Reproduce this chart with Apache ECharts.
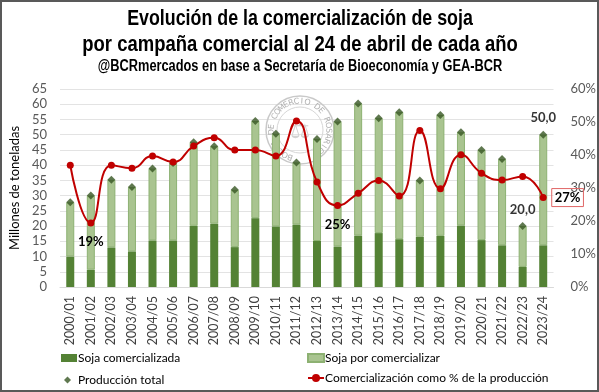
<!DOCTYPE html>
<html><head><meta charset="utf-8">
<script src="https://cdn.jsdelivr.net/npm/echarts@6/dist/echarts.min.js"></script>
<style>html,body{margin:0;padding:0;background:#fff}#c{width:599px;height:392px}</style>
</head><body><div id="c"></div>
<script>
const categories = ['2000/01','2001/02','2002/03','2003/04','2004/05','2005/06','2006/07','2007/08','2008/09','2009/10','2010/11','2011/12','2012/13','2013/14','2014/15','2015/16','2016/17','2017/18','2018/19','2019/20','2020/21','2021/22','2022/23','2023/24'];
const produccionTotal = [27.8,30.0,35.2,32.8,38.9,40.7,47.5,46.2,31.9,54.5,50.3,40.9,48.6,54.3,60.2,55.4,57.4,35.0,56.5,50.8,45.0,42.0,20.0,50.0];
const sojaComercializada = [10.0,5.7,13.0,11.7,15.3,15.3,20.1,20.8,13.1,22.6,19.9,20.5,15.1,13.3,16.9,17.7,15.7,16.5,16.8,20.2,15.4,13.7,6.6,13.7];
const pctComercializado = [36.9,19.4,36.9,36.0,39.7,37.9,42.7,45.2,41.5,41.5,39.7,50.3,31.8,24.7,28.4,32.3,27.6,47.4,29.8,40.1,34.5,32.4,33.5,27.1];
const leftTicks = {min:0,max:65,interval:5};
const rightTicks = {min:0,max:60,interval:10};
const pctBelowLabels = [1,13];
const pctRightLabel = 23;
const totalLabels = [22,23];
const titleLines = ['Evolución de la comercialización de soja','por campaña comercial al 24 de abril de cada año'];
const subtitle = '@BCRmercados en base a Secretaría de Bioeconomía y GEA-BCR';

const sojaPorComercializar = produccionTotal.map((t,i)=>+(t - sojaComercializada[i]).toFixed(1));
const FONT = 'Lato, "Open Sans", sans-serif';
const TFONT = '"Liberation Sans", Arial, sans-serif';

const pctData = pctComercializado.map((v,i)=>{
  if (pctBelowLabels.includes(i)) return {value:v,label:{show:true,position:'bottom',distance:9}};
  if (i===pctRightLabel) return {value:v,label:{show:true,position:'right',distance:5,borderColor:'#e06666',borderWidth:1,padding:[3,3,2,3]}};
  return v;
});
const totData = produccionTotal.map((v,i)=> totalLabels.includes(i) ? {value:v,label:{show:true,position:'top',distance:6}} : v);

const g = [];
g.push({type:'text',x:300,y:19,scaleX:0.81,style:{text:titleLines[0],font:'bold 22px '+TFONT,fill:'#000',align:'center',verticalAlign:'middle'},z:10,silent:true});
g.push({type:'text',x:300,y:45,scaleX:0.84,style:{text:titleLines[1],font:'bold 22px '+TFONT,fill:'#000',align:'center',verticalAlign:'middle'},z:10,silent:true});
g.push({type:'text',x:300,y:67,scaleX:0.80,style:{text:subtitle,font:'bold 16px '+TFONT,fill:'#000',align:'center',verticalAlign:'middle'},z:10,silent:true});
const cx=300, cy=130;
g.push({type:'circle',shape:{cx,cy,r:34},style:{fill:'rgba(255,255,255,0)',stroke:'#c9c9c9',lineWidth:1.5},z:1,silent:true});
g.push({type:'circle',shape:{cx,cy,r:23},style:{fill:'rgba(255,255,255,0)',stroke:'#d6d6d6',lineWidth:1},z:1,silent:true});
const wmText = 'BOLSA DE COMERCIO DE ROSARIO';
const a0 = 250*Math.PI/180, a1 = -45*Math.PI/180;
for (let k=0;k<wmText.length;k++){
  const th = a0 + (a1-a0)*k/(wmText.length-1);
  const r = 28.5;
  g.push({type:'text',x:cx + r*Math.cos(th), y:cy - r*Math.sin(th), rotation: th - Math.PI/2,
    style:{text:wmText[k],font:'8px "DejaVu Sans", sans-serif',fill:'#b0b0b0',align:'center',verticalAlign:'middle'},z:1,silent:true});
}
g.push({type:'text',x:cx,y:cy+2,style:{text:'⚖',font:'22px "DejaVu Sans", sans-serif',fill:'#d2d2d2',align:'center',verticalAlign:'middle'},z:1,silent:true});
g.push({type:'rect',shape:{x:1,y:1,width:597,height:390},style:{fill:'rgba(0,0,0,0)',stroke:'#595959',lineWidth:2},z:10,silent:true});

const chart = echarts.init(document.getElementById('c'), null, {renderer:'canvas'});
chart.setOption({
  animation:false,
  backgroundColor:'#fff',
  graphic: g,
  grid:{left:53,right:43,top:89,bottom:105},
  legend:[
    {left:56,top:347,itemWidth:16,itemHeight:8,icon:'rect',data:['Soja comercializada'],textStyle:{fontFamily:FONT,fontSize:12,color:'#000',padding:[0,0,0,-4]}},
    {left:302,top:347,itemWidth:16,itemHeight:8,icon:'rect',data:['Soja por comercializar'],textStyle:{fontFamily:FONT,fontSize:12,color:'#000',padding:[0,0,0,-4]}},
    {left:59,top:369,itemWidth:7,itemHeight:7,data:['Producción total'],textStyle:{fontFamily:FONT,fontSize:12,color:'#000',padding:[0,0,0,2]}},
    {left:302,top:367,itemWidth:16,itemHeight:10,data:['Comercialización como % de la producción'],textStyle:{fontFamily:FONT,fontSize:12,color:'#000',padding:[0,0,0,-4]}}
  ],
  xAxis:{type:'category',data:categories,
    axisLine:{lineStyle:{color:'#d9d9d9'}},axisTick:{show:false},
    axisLabel:{rotate:90,interval:0,margin:9,fontFamily:FONT,fontSize:12.5,color:'#404040'}},
  yAxis:[
    {type:'value',min:leftTicks.min,max:leftTicks.max,interval:leftTicks.interval,
      name:'Millones de toneladas',nameLocation:'middle',nameGap:21,nameTextStyle:{fontFamily:FONT,fontSize:13,color:'#000'},
      axisLabel:{fontFamily:FONT,fontSize:13,color:'#595959',margin:13},
      splitLine:{lineStyle:{color:'#e3e3e3'}},axisLine:{show:false},axisTick:{show:false}},
    {type:'value',min:rightTicks.min,max:rightTicks.max,interval:rightTicks.interval,position:'right',
      axisLabel:{formatter:'{value}%',fontFamily:FONT,fontSize:13,color:'#595959',margin:17},
      splitLine:{show:false},axisLine:{show:false},axisTick:{show:false}}
  ],
  series:[
    {name:'Soja comercializada',type:'bar',stack:'s',barWidth:8,data:sojaComercializada,
      itemStyle:{color:'#548235'},z:3},
    {name:'Soja por comercializar',type:'bar',stack:'s',barWidth:8,data:sojaPorComercializar,
      itemStyle:{color:'#a9c490',borderColor:'#8db172',borderWidth:1},z:3},
    {name:'Producción total',type:'scatter',symbol:'diamond',symbolSize:8,data:totData,
      itemStyle:{color:'#375623'},z:5,
      label:{show:false,fontFamily:FONT,fontSize:13,fontWeight:'bold',color:'#000',formatter:p=>p.value.toFixed(1).replace('.',',')}},
    {name:'Comercialización como % de la producción',type:'line',yAxisIndex:1,smooth:0.5,data:pctData,
      symbol:'circle',symbolSize:7,lineStyle:{color:'#c00000',width:2},itemStyle:{color:'#c00000'},z:6,
      label:{show:false,fontFamily:FONT,fontSize:13,fontWeight:'bold',color:'#000',formatter:p=>Math.round(p.value)+'%'}}
  ]
});
</script></body></html>
